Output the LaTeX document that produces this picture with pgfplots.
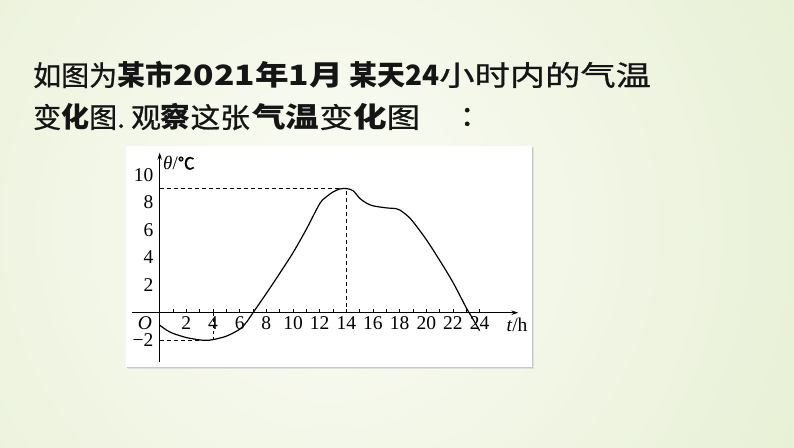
\documentclass[border=0pt]{standalone}
\usepackage{fontspec}
\setmainfont{Liberation Serif}
\newfontfamily\cjk[UprightFeatures={FakeBold=0.8}]{Noto Sans CJK SC}
\newfontfamily\cjks[FakeStretch=1.26, UprightFeatures={FakeBold=0.8}]{Noto Sans CJK SC}
\newfontfamily\cjkt[FakeStretch=1.2, UprightFeatures={FakeBold=0.8}]{Noto Sans CJK SC}
\newfontfamily\cjkm[FakeStretch=1.06, UprightFeatures={FakeBold=0.8}]{Noto Sans CJK SC}
\newfontfamily\cjkp[FakeBold=1.5]{Noto Sans CJK SC}
\usepackage{pgfplots}
\pgfplotsset{compat=1.18}
\usetikzlibrary{arrows.meta}
\definecolor{bgout}{HTML}{D9E7BC}
\definecolor{bgin}{HTML}{FBFCF6}
\definecolor{txt}{HTML}{151515}
\begin{document}
\begin{tikzpicture}
\path[use as bounding box] (0,0) rectangle (794pt,447pt);
\begin{scope}
\clip (0,0) rectangle (794pt,447pt);
\fill[bgout] (0,0) rectangle (794pt,447pt);
\shade[inner color=bgin, outer color=bgout] (330pt,220pt) circle (920pt);
\end{scope}
% title text, line 1
\node[anchor=west, inner sep=0pt, text=txt] at (33pt,372pt)
  {\fontsize{28}{28}\selectfont\cjk 如图为\textbf{某市{\cjkt 2021年1月}}};
\node[anchor=west, inner sep=0pt, text=txt] at (349pt,372pt)
  {\fontsize{28}{28}\selectfont\cjk\textbf{某天24}{\cjks 小时内的气温}};
% title text, line 2
\node[anchor=west, inner sep=0pt, text=txt] at (33pt,330pt)
  {\fontsize{28}{28}\selectfont\cjk 变\textbf{化}图.};
\node[anchor=west, inner sep=0pt, text=txt] at (131pt,330pt)
  {\fontsize{28}{28}\selectfont\cjkm 观\textbf{察}这张};
\node[anchor=west, inner sep=0pt, text=txt] at (252pt,330pt)
  {\fontsize{28}{28}\selectfont\cjkt\textbf{气温}变\textbf{化}图};
\node[anchor=west, inner sep=0pt, text=txt] at (460pt,330pt)
  {\fontsize{28}{28}\selectfont\cjkp ：};
% white panel with shadow
\fill[black!12] (128pt,78pt) rectangle (534pt,299pt);
\fill[black!22] (127pt,79pt) rectangle (533pt,300pt);
\fill[white] (126pt,80pt) rectangle (532pt,300.5pt);
\begin{axis}[
  at={(131.7pt,85.3pt)}, anchor=south west,
  scale only axis, width=386.6pt, height=209pt,
  xmin=-2.1, xmax=26.9, ymin=-3.55, ymax=11.6,
  axis lines=middle,
  axis line style={line width=0.9pt, -{Stealth[length=7pt,width=4.5pt]}},
  clip=false,
  xtick={1,2,...,24},
  xticklabels={,2,,4,,6,,8,,10,,12,,14,,16,,18,,20,,22,,24},
  ytick={-2,2,4,6,8,10},
  yticklabels={−2,2,4,6,8,10},
  xtick align=inside,
  major tick length=4pt,
  x tick style={line width=0.8pt, black},
  y tick style={draw=none},
  tick label style={font=\fontsize{19.5}{19.5}\selectfont, text=black},
  xticklabel style={anchor=north, inner sep=0pt, yshift=-4pt},
  yticklabel style={anchor=east, inner sep=0pt, xshift=-4pt},
]
\addplot[line width=1.2pt, smooth, tension=0.5] coordinates {
 (0,-0.9) (0.5,-1.25) (1,-1.5) (2,-1.8) (3,-1.97) (3.5,-2) (4,-1.95) (5,-1.7)
 (6,-1.2) (6.5,-0.7) (7,0) (8,1.4) (9,2.85) (10,4.35) (11,6.05) (12,7.9)
 (12.5,8.4) (13,8.75) (13.5,8.97) (14,9) (14.5,8.85) (15,8.3) (15.5,7.95)
 (16,7.75) (17,7.6) (17.7,7.55) (18,7.45) (18.5,7.1) (19,6.6) (20,5.3)
 (21,3.8) (22,2.2) (23,0.35) (23.4,-0.3) (24,-1.3)
};
\addplot[line width=0.9pt, dash pattern=on 4pt off 3pt] coordinates {(0,9) (14,9) (14,0)};
\addplot[line width=0.9pt, dash pattern=on 4pt off 3pt] coordinates {(0,-2) (3.3,-2)};
\addplot[line width=0.9pt, dash pattern=on 3pt off 3pt] coordinates {(4,-1.95) (4,0)};
\node[font=\fontsize{19.5}{19.5}\selectfont\itshape] at (axis cs:-1.1,-0.72) {O};
\node[anchor=west, inner sep=0pt, font=\fontsize{19}{19}\selectfont] at (axis cs:0.25,10.85) {\textit{θ}/{\cjk\fontsize{17}{17}\selectfont ℃}};
\node[anchor=west, inner sep=0pt, font=\fontsize{19.5}{19.5}\selectfont] at (axis cs:26.0,-0.9) {\textit{t}/h};
\end{axis}
\end{tikzpicture}
\end{document}
